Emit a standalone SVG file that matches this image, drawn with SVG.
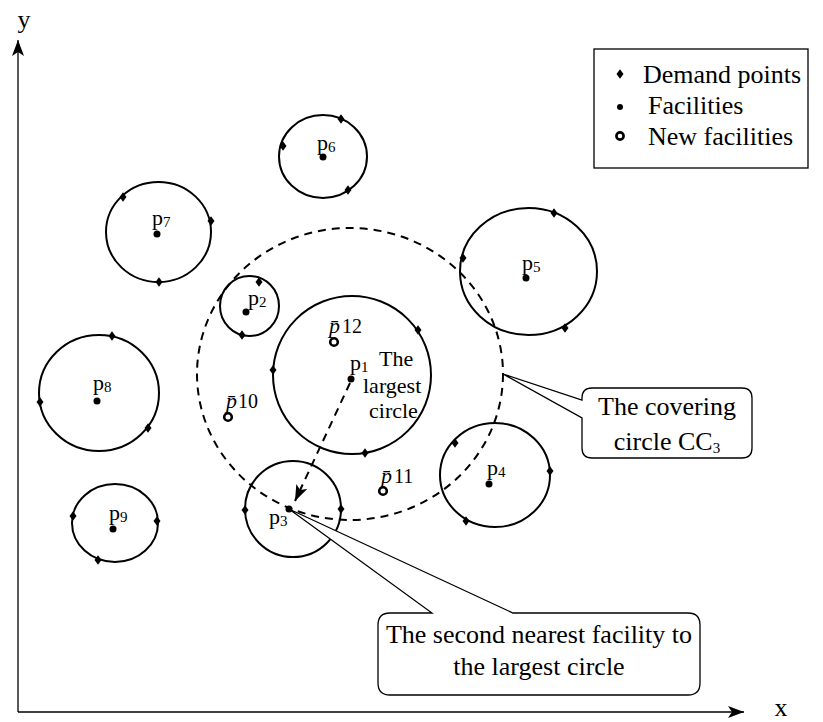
<svg xmlns="http://www.w3.org/2000/svg" width="823" height="722" viewBox="0 0 823 722">
  <style>
    text { font-family: "Liberation Serif", "Times New Roman", serif; fill: #000; }
    .big { font-size: 26px; }
    .lbl { font-size: 22px; }
    .sub { font-size: 15px; }
    .nf { font-size: 22px; font-style: italic; }
    .nfn { font-size: 20px; }
    .ring { fill: none; stroke: #000; stroke-width: 2; }
    .dash { fill: none; stroke: #000; stroke-width: 2; stroke-dasharray: 8 6; }
    .fac { fill: #000; }
    .newf { fill: #fff; stroke: #000; stroke-width: 2.6; }
    .line { fill: none; stroke: #000; stroke-width: 1.3; }
    .box { fill: #fff; stroke: #000; stroke-width: 1.3; }
  </style>
  <defs>
    <path id="dp" d="M0,-4.8 L3.5,0 L0,4.8 L-3.5,0 Z" fill="#000"/>
    <marker id="head" viewBox="0 0 16 12" refX="16" refY="6" markerWidth="16" markerHeight="12" markerUnits="userSpaceOnUse" orient="auto">
      <path d="M0,0 L16,6 L0,12 L4,6 Z" fill="#000"/>
    </marker>
  </defs>

  <!-- axes -->
  <g id="axes">
    <line class="line" x1="18" y1="712" x2="18" y2="40" marker-end="url(#head)"/>
    <line class="line" x1="18" y1="712" x2="744" y2="712" marker-end="url(#head)"/>
    <text x="24" y="28" class="big" font-size="24" text-anchor="middle">y</text>
    <text x="781" y="716" class="big" font-size="24" text-anchor="middle">x</text>
  </g>

  <!-- legend -->
  <g id="legend">
    <rect class="box" x="594" y="49" width="214" height="119"/>
    <use href="#dp" x="620" y="74"/>
    <circle class="fac" cx="620" cy="107" r="3"/>
    <circle class="newf" cx="620" cy="136" r="3.6"/>
    <text x="643" y="83" class="big">Demand points</text>
    <text x="648" y="114" class="big">Facilities</text>
    <text x="648" y="145" class="big">New facilities</text>
  </g>

  <!-- covering circle CC3 -->
  <g id="cc3">
    <ellipse class="dash" cx="350" cy="374" rx="153" ry="146"/>
  </g>

  <!-- facility p1: the largest circle -->
  <g id="p1">
    <circle class="ring" cx="352" cy="375" r="79"/>
    <use href="#dp" x="273" y="370"/>
    <use href="#dp" x="418" y="330"/>
    <use href="#dp" x="365" y="453"/>
    <circle class="fac" cx="351" cy="379" r="3.5"/>
    <text x="350" y="370" class="lbl">p<tspan class="sub" dy="2">1</tspan></text>
    <text x="379" y="366" class="lbl">The</text>
    <text x="363" y="393" class="lbl">largest</text>
    <text x="369" y="418" class="lbl">circle</text>
  </g>

  <g id="p2">
    <ellipse class="ring" cx="249.5" cy="306" rx="29.5" ry="30"/>
    <use href="#dp" x="259" y="282"/>
    <use href="#dp" x="242" y="335"/>
    <circle class="fac" cx="246" cy="312" r="3.5"/>
    <text x="248" y="305" class="lbl">p<tspan class="sub" dy="2">2</tspan></text>
  </g>

  <g id="p3">
    <circle class="ring" cx="293" cy="509" r="48"/>
    <use href="#dp" x="245" y="510"/>
    <use href="#dp" x="341" y="509"/>
    <circle class="fac" cx="289" cy="509" r="3.5"/>
    <text x="269" y="524" class="lbl">p<tspan class="sub" dy="2">3</tspan></text>
  </g>

  <g id="p4">
    <ellipse class="ring" cx="495" cy="475" rx="55" ry="52"/>
    <use href="#dp" x="455" y="443"/>
    <use href="#dp" x="550" y="471"/>
    <use href="#dp" x="466" y="521"/>
    <circle class="fac" cx="489" cy="484" r="3.5"/>
    <text x="487" y="475" class="lbl">p<tspan class="sub" dy="2">4</tspan></text>
  </g>

  <g id="p5">
    <ellipse class="ring" cx="528.5" cy="271.5" rx="68.5" ry="63.5"/>
    <use href="#dp" x="463" y="258"/>
    <use href="#dp" x="554" y="213"/>
    <use href="#dp" x="565" y="328"/>
    <circle class="fac" cx="526" cy="278" r="3.5"/>
    <text x="522" y="270" class="lbl">p<tspan class="sub" dy="2">5</tspan></text>
  </g>

  <g id="p6">
    <ellipse class="ring" cx="323" cy="156.5" rx="44" ry="41.5"/>
    <use href="#dp" x="283" y="146"/>
    <use href="#dp" x="341" y="119"/>
    <use href="#dp" x="348" y="190"/>
    <circle class="fac" cx="323" cy="157" r="3.5"/>
    <text x="317" y="150" class="lbl">p<tspan class="sub" dy="2">6</tspan></text>
  </g>

  <g id="p7">
    <ellipse class="ring" cx="158.5" cy="232" rx="52.5" ry="50"/>
    <use href="#dp" x="123" y="197"/>
    <use href="#dp" x="211" y="221"/>
    <use href="#dp" x="159" y="282"/>
    <circle class="fac" cx="157" cy="234" r="3.5"/>
    <text x="152" y="225" class="lbl">p<tspan class="sub" dy="2">7</tspan></text>
  </g>

  <g id="p8">
    <ellipse class="ring" cx="99" cy="393" rx="60" ry="58"/>
    <use href="#dp" x="112" y="336"/>
    <use href="#dp" x="40" y="402"/>
    <use href="#dp" x="148" y="428"/>
    <circle class="fac" cx="97" cy="401" r="3.5"/>
    <text x="93" y="390" class="lbl">p<tspan class="sub" dy="2">8</tspan></text>
  </g>

  <g id="p9">
    <ellipse class="ring" cx="115" cy="523" rx="43" ry="39"/>
    <use href="#dp" x="73" y="516"/>
    <use href="#dp" x="157" y="521"/>
    <use href="#dp" x="98" y="560"/>
    <circle class="fac" cx="113" cy="529" r="3.5"/>
    <text x="109" y="520" class="lbl">p<tspan class="sub" dy="2">9</tspan></text>
  </g>

  <!-- new facilities -->
  <g id="p10">
    <circle class="newf" cx="228" cy="417" r="3.8"/>
    <text x="226" y="408" class="nf">p&#x304;</text>
    <text x="238" y="408" class="nfn">10</text>
  </g>
  <g id="p11">
    <circle class="newf" cx="383" cy="491" r="3.8"/>
    <text x="381" y="483" class="nf">p&#x304;</text>
    <text x="394" y="483" class="nfn">11</text>
  </g>
  <g id="p12">
    <circle class="newf" cx="334" cy="342" r="3.8"/>
    <text x="329" y="333" class="nf">p&#x304;</text>
    <text x="342" y="333" class="nfn">12</text>
  </g>

  <!-- connectors -->
  <g id="connectors">
    <line x1="350" y1="383" x2="295" y2="501" stroke="#000" stroke-width="2" stroke-dasharray="8 6" marker-end="url(#head)"/>
  </g>

  <!-- callouts -->
  <g id="callout-cc3">
    <path class="box" d="M592,388 H742 Q752,388 752,398 V448 Q752,458 742,458 H592 Q582,458 582,448 V418 L503,374 L582,400 V398 Q582,388 592,388 Z"/>
    <text x="667" y="415" class="big" font-size="25" text-anchor="middle">The covering</text>
    <text x="667" y="450" class="big" font-size="25" text-anchor="middle">circle CC<tspan font-size="15" dy="3">3</tspan></text>
  </g>
  <g id="callout-second">
    <path class="box" d="M390,613 H432 L289,509 L513,613 H688 Q700,613 700,625 V683 Q700,695 688,695 H390 Q378,695 378,683 V625 Q378,613 390,613 Z"/>
    <text x="539" y="643" class="big" text-anchor="middle">The second nearest facility to</text>
    <text x="539" y="675" class="big" text-anchor="middle">the largest circle</text>
  </g>
</svg>
